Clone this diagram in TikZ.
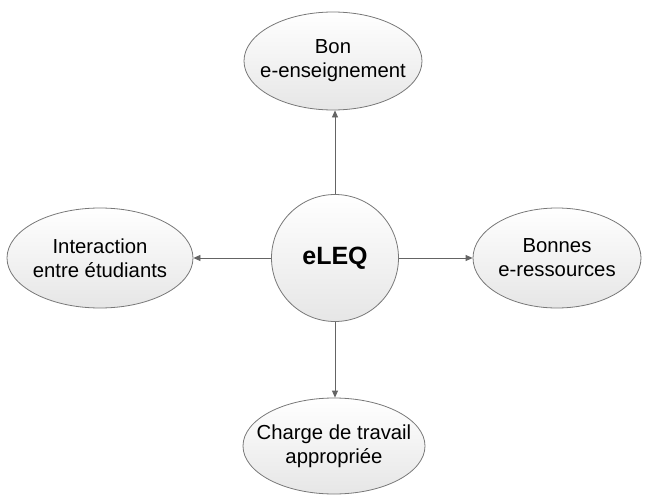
\documentclass[tikz,border=0pt]{standalone}
\usepackage{fontspec}
\setmainfont{Liberation Sans}
\usetikzlibrary{shapes.geometric,arrows.meta}
\definecolor{edgegray}{RGB}{120,120,120}
\definecolor{linegray}{RGB}{100,100,100}
\begin{document}
\begin{tikzpicture}[x=1pt,y=-1pt,
  bubble/.style={ellipse,draw=edgegray,line width=0.8pt,top color=white,bottom color={rgb,255:red,230;green,230;blue,230},
    inner sep=0pt},
  btext/.style={align=center,inner sep=0pt,font=\fontsize{20.3}{24}\selectfont},
  hub/.style={circle,draw=edgegray,line width=0.8pt,top color=white,bottom color={rgb,255:red,230;green,230;blue,230},
    minimum size=127pt,inner sep=0pt,font=\fontsize{25}{29}\selectfont\bfseries},
  link/.style={draw=linegray,line width=0.8pt,-{Triangle[length=7pt,width=6pt]}}]
\useasboundingbox (0,0) rectangle (645,495);
\node[hub] (c) at (335,258) {eLEQ};
\node[bubble,minimum width=178pt,minimum height=98pt,label={[btext]center:Bon\\e-enseignement}] (t) at (333,61) {};
\node[bubble,minimum width=186pt,minimum height=100pt,label={[btext]center:Interaction\\entre étudiants}] (l) at (100,258) {};
\node[bubble,minimum width=168pt,minimum height=100pt,label={[btext]center:Bonnes\\e-ressources}] (r) at (557,258) {};
\node[bubble,minimum width=182pt,minimum height=96pt,label={[btext]center:Charge de travail\\appropriée}] (b) at (334,446) {};
\draw[link] (c.north) -- (c.north |- t.south);
\draw[link] (c.west) -- (l.east);
\draw[link] (c.east) -- (r.west);
\draw[link] (c.south) -- (c.south |- b.north);
\end{tikzpicture}
\end{document}
